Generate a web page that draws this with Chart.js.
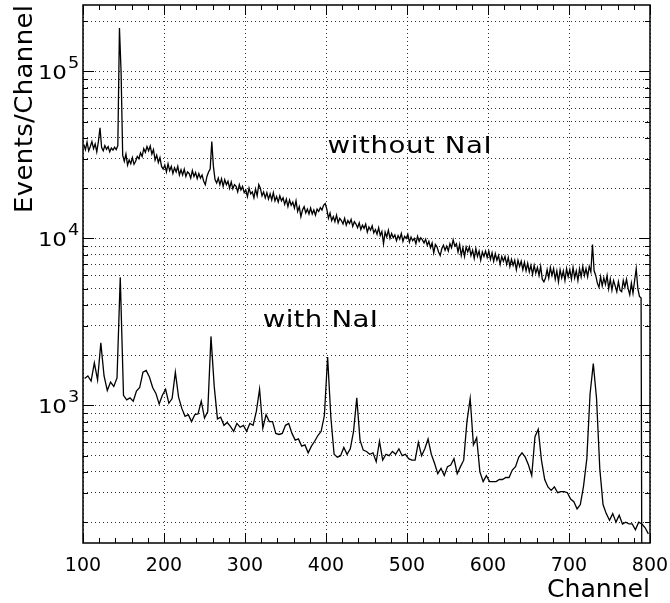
<!DOCTYPE html>
<html>
<head>
<meta charset="utf-8">
<script src="https://cdn.jsdelivr.net/npm/chart.js@4.4.1/dist/chart.umd.min.js"></script>
<style>
  html, body { margin: 0; padding: 0; background: #fff; }
  #wrap { width: 670px; height: 603px; }
</style>
</head>
<body>
<div id="wrap"><canvas id="spectrum" width="670" height="603"></canvas></div>
<script>
// histogram bins start at channel 100
const binStart = 100;
const withoutBinWidth = 2;
const withBinWidth = 4;

// counts per bin (2-channel bins, centres 101, 103, ... 799)
// the spectrum without NaI stops at channel ~790 (1 = empty, below the axis)
const withoutNaI = [
    36500, 34000, 37800, 33500, 35500, 38000, 34500, 36800, 33000, 38000,
    46000, 35000, 33500, 36000, 34200, 35500, 33000, 34800, 33800, 35200,
    34000, 36000, 182000, 100000, 31500, 29000, 32000, 27500, 29500, 28000,
    30500, 27800, 29000, 31000, 30000, 32500, 31000, 34500, 32800, 35500,
    33500, 35800, 32000, 34000, 29500, 31500, 28500, 30500, 27000, 26000,
    27500, 25000, 28000, 25500, 27000, 24500, 26500, 25000, 27000, 24000,
    25800, 24000, 26000, 23500, 25000, 24500, 23000, 25500, 23500, 24800,
    22800, 24500, 23000, 24000, 22000, 21000, 23500, 25000, 26000, 38000,
    27000, 22500, 21500, 23000, 21000, 22800, 20500, 22500, 21000, 22000,
    20000, 21800, 19800, 21000, 20500, 19000, 21000, 19500, 20500, 18800,
    19500, 17800, 20000, 18500, 19000, 17500, 19800, 18000, 21000, 20000,
    18000, 19000, 17500, 18800, 17200, 18500, 17000, 18800, 16800, 17800,
    16500, 18000, 16800, 17500, 16000, 17200, 15500, 17000, 15800, 16500,
    15200, 16800, 14500, 15500, 13500, 14800, 15500, 14200, 15000, 14000,
    15200, 14000, 14800, 13800, 15000, 14500, 15300, 14800, 15800, 16200,
    15000, 13200, 14200, 12800, 13500, 12600, 13800, 12400, 13200, 12800,
    12200, 13200, 12000, 12800, 12300, 13000, 11800, 12600, 12200, 11600,
    12400, 11300, 12000, 11500, 12200, 10900, 11700, 11200, 11900, 10800,
    11300, 10600, 11600, 10400, 11000, 9300, 10900, 10200, 11200, 10000,
    10700, 10100, 10500, 9700, 10400, 9900, 10700, 9600, 10300, 10000,
    10600, 9500, 10200, 9700, 10000, 9300, 10300, 9600, 10100, 9800,
    9400, 9900, 9100, 9600, 8800, 9400, 8200, 9200, 8900, 8300,
    7900, 8700, 9100, 8500, 9000, 8400, 9300, 8800, 9800, 9000,
    9300, 8300, 9200, 7900, 8800, 7800, 8900, 8300, 8900, 7900,
    8500, 7600, 8700, 7800, 8400, 7400, 8300, 7800, 8400, 7700,
    8400, 7500, 8200, 7300, 8100, 7400, 7900, 7000, 7800, 7300,
    7800, 7000, 7700, 6800, 7500, 6900, 7400, 6500, 7400, 6800,
    7300, 6500, 7200, 6400, 7100, 6300, 6900, 6100, 6900, 6200,
    6700, 6000, 6800, 5700, 5500, 5800, 6500, 5800, 6700, 6000,
    6600, 5700, 6400, 5500, 6500, 5800, 6400, 5600, 6600, 5900,
    6500, 5700, 6700, 5800, 6400, 5600, 6600, 5900, 6800, 6000,
    6600, 5900, 6800, 6300, 9200, 6400, 6000, 5400, 5100, 5900,
    5200, 5800, 5300, 6000, 5000, 5700, 4900, 5600, 5200, 4800,
    5500, 4900, 4800, 5600, 5100, 5700, 5000, 4600, 5400, 4700,
    5600, 6600, 5000, 4500, 4400, 1, 1, 1, 1, 1
];
// 4-channel bins, centres 102, 106, ... 798
const withNaI = [
    1450, 1500, 1400, 1800, 1420, 2370, 1500, 1230, 1380, 1300,
    1460, 5850, 1150, 1080, 1110, 1060, 1220, 1280, 1580, 1620,
    1480, 1280, 1180, 1020, 1150, 1250, 1030, 1100, 1580, 1120,
    960, 860, 880, 800, 880, 890, 1060, 840, 920, 2590,
    1300, 830, 850, 760, 790, 750, 700, 780, 740, 760,
    700, 780, 760, 920, 1250, 730, 880, 800, 800, 680,
    670, 680, 760, 780, 680, 620, 630, 570, 580, 520,
    570, 610, 660, 700, 870, 1950, 850, 510, 490, 500,
    560, 510, 550, 700, 1110, 620, 540, 530, 510, 520,
    460, 610, 470, 510, 500, 530, 510, 550, 500, 510,
    480, 470, 470, 600, 500, 550, 630, 510, 450, 390,
    420, 380, 430, 440, 480, 390, 430, 470, 800, 1100,
    580, 640, 400, 350, 380, 350, 350, 350, 360, 360,
    370, 370, 410, 430, 490, 520, 490, 440, 380, 650,
    720, 470, 360, 325, 310, 325, 300, 305, 305, 300,
    275, 265, 240, 255, 330, 480, 1170, 1780, 1100, 420,
    255, 225, 205, 225, 200, 220, 195, 200, 195, 195,
    180, 200, 195, 185, 170
];

const xTickStep = 100;
const xMinorStep = 20;
const yGridValues = [
    200, 300, 400, 500, 600, 700, 800, 900,
    1000, 2000, 3000, 4000, 5000, 6000, 7000, 8000, 9000,
    10000, 20000, 30000, 40000, 50000, 60000, 70000, 80000, 90000,
    100000, 200000
];
const yLabelExps = [3, 4, 5];

// text labels inside the frame: left edge channel, baseline value, width in px
const notes = [
    { text: 'without NaI', ch: 402, value: 32500, width: 164 },
    { text: 'with NaI', ch: 322, value: 2940, width: 115 }
];

const FONT = "'DejaVu Sans', sans-serif";

function toPoints(values, width) {
    return values.map((v, i) => ({ x: binStart + width * (i + 0.5), y: v }));
}

// wide lettering: stretch the glyphs and spread them to a given width
function drawSpread(ctx, text, x, y, width, stretch) {
    const chars = [...text];
    const natural = chars.reduce((s, c) => s + ctx.measureText(c).width, 0);
    const gap = chars.length > 1 ? (width / stretch - natural) / (chars.length - 1) : 0;
    ctx.save();
    ctx.translate(x, y);
    ctx.scale(stretch, 1);
    let cx = 0;
    chars.forEach(c => {
        ctx.fillText(c, cx, 0);
        cx += ctx.measureText(c).width + gap;
    });
    ctx.restore();
}

const framePlugin = {
    id: 'frame',
    afterDraw(chart) {
        const { ctx, chartArea: a, scales: { x, y } } = chart;
        ctx.save();
        ctx.strokeStyle = '#000';

        // tick marks pointing into the plot
        ctx.lineWidth = 1;
        ctx.beginPath();
        for (let c = x.min; c <= x.max; c += xMinorStep) {
            const px = Math.round(x.getPixelForValue(c)) + 0.5;
            const len = (c % xTickStep === 0) ? 10 : 5;
            ctx.moveTo(px, a.bottom); ctx.lineTo(px, a.bottom - len);
            ctx.moveTo(px, a.top); ctx.lineTo(px, a.top + len);
        }
        yGridValues.forEach(v => {
            const py = Math.round(y.getPixelForValue(v)) + 0.5;
            const len = Number.isInteger(Math.log10(v)) ? 11 : 5;
            ctx.moveTo(a.left, py); ctx.lineTo(a.left + len, py);
            ctx.moveTo(a.right, py); ctx.lineTo(a.right - len, py);
        });
        ctx.stroke();

        ctx.lineWidth = 1.5;
        ctx.strokeRect(a.left, a.top, a.right - a.left, a.bottom - a.top);

        ctx.fillStyle = '#000';
        ctx.textBaseline = 'alphabetic';

        // y labels as powers of ten
        yLabelExps.forEach(e => {
            const py = y.getPixelForValue(Math.pow(10, e));
            ctx.font = '20px ' + FONT;
            drawSpread(ctx, '10', 38, py + 7.5, 29, 1.15);
            ctx.font = '16px ' + FONT;
            drawSpread(ctx, String(e), 68, py - 3, 11, 1.1);
        });

        // axis titles
        ctx.font = '24px ' + FONT;
        drawSpread(ctx, 'Channel', a.right - 103, 597, 103, 1.05);
        ctx.save();
        ctx.translate(32, a.top + 208);
        ctx.rotate(-Math.PI / 2);
        drawSpread(ctx, 'Events/Channel', 0, 0, 208, 1.08);
        ctx.restore();

        // spectrum labels
        ctx.font = '23px ' + FONT;
        notes.forEach(n => {
            drawSpread(ctx, n.text, x.getPixelForValue(n.ch), y.getPixelForValue(n.value), n.width, 1.2);
        });
        ctx.restore();
    }
};

const lineStyle = {
    borderColor: '#000',
    borderWidth: 1.3,
    pointRadius: 0,
    tension: 0,
    fill: false
};

const ctx = document.getElementById('spectrum').getContext('2d');
const chart = new Chart(ctx, {
    type: 'line',
    data: {
        datasets: [
            { label: 'without NaI', data: toPoints(withoutNaI, withoutBinWidth), ...lineStyle },
            { label: 'with NaI', data: toPoints(withNaI, withBinWidth), ...lineStyle }
        ]
    },
    options: {
        responsive: false,
        animation: false,
        devicePixelRatio: 1,
        layout: { padding: { top: 5, right: 20, left: 0, bottom: 0 } },
        plugins: {
            legend: { display: false },
            tooltip: { enabled: false }
        },
        scales: {
            x: {
                type: 'linear',
                min: 100,
                max: 800,
                afterFit: s => {
                    s.height = 60;
                    s.paddingLeft = 0;
                    s.paddingRight = 0;
                },
                ticks: {
                    stepSize: xTickStep,
                    color: '#000',
                    font: { family: FONT, size: 19 },
                    padding: 12,
                    maxRotation: 0
                },
                grid: { drawTicks: false, color: 'rgba(0,0,0,0.8)', lineWidth: 1 },
                border: { display: false, dash: [1, 3] }
            },
            y: {
                type: 'logarithmic',
                min: 150,
                max: 250000,
                afterFit: s => { s.width = 83; },
                afterBuildTicks: s => { s.ticks = yGridValues.map(v => ({ value: v })); },
                ticks: { display: false },
                grid: { drawTicks: false, color: 'rgba(0,0,0,0.8)', lineWidth: 1 },
                border: { display: false, dash: [1, 3] }
            }
        }
    },
    plugins: [framePlugin]
});
</script>
</body>
</html>
